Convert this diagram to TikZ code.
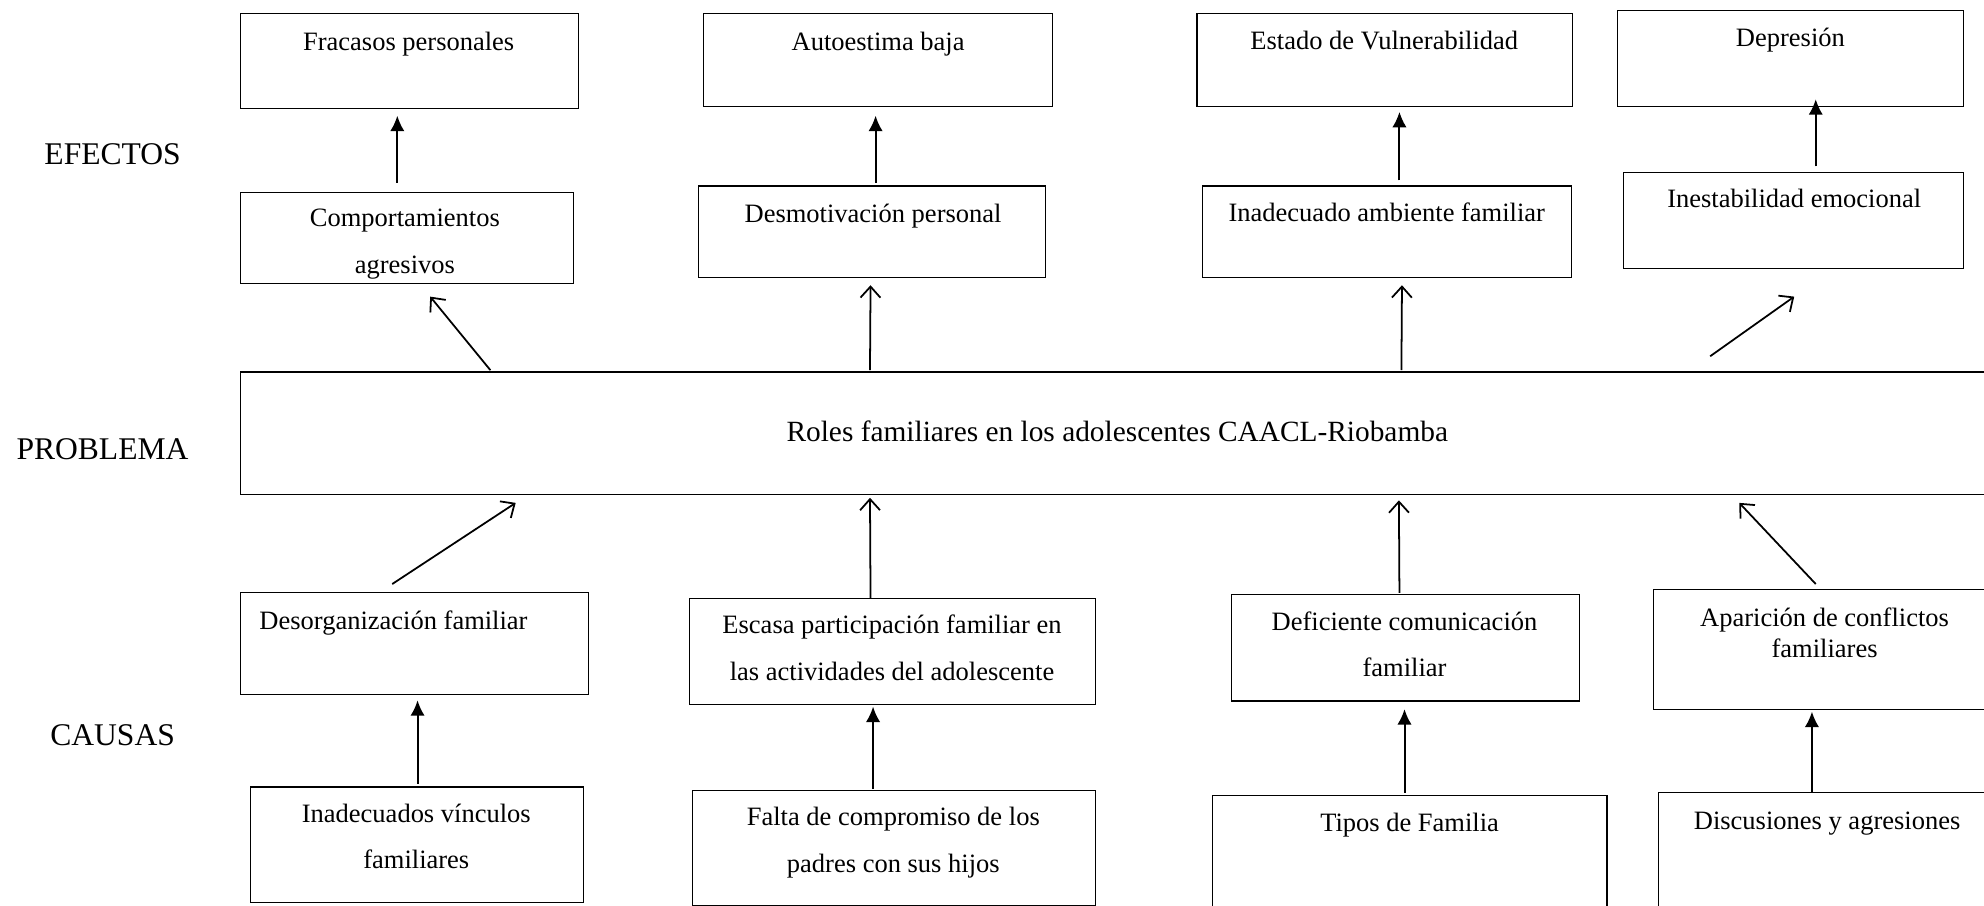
\documentclass[tikz,border=0pt]{standalone}
\usepackage{fontspec}
\setmainfont{Liberation Serif}
\usetikzlibrary{calc,fit,arrows.meta}
\tikzset{>=latex}
\tikzset{
  caja/.style = {draw, line width=0.5pt, inner sep=0pt},
  texto/.style = {font=\fontsize{12}{21}\selectfont, align=center, inner sep=0pt},
  etiqueta/.style = {font=\fontsize{14.3}{17}\selectfont, inner sep=0pt},
  flecha/.style = {-{Latex[length=7pt,width=6.5pt]}, line width=0.9pt},
  flechab/.style = {-{Straight Barb[length=5pt,width=9pt]}, line width=0.8pt}
}
\begin{document}
\begin{tikzpicture}[x=0.573pt, y=-0.573pt]
\useasboundingbox (0,0) rectangle (1568,716);
% etiquetas
\node[etiqueta] (lefectos) at (89,122) {EFECTOS};
\node[etiqueta] (lproblema) at (81,355) {PROBLEMA};
\node[etiqueta] (lcausas) at (89,581) {CAUSAS};
% efectos
\node[caja, fit={(190,11) (457,86)}] (e1) {};
\node[texto] (te1) at (323,35) {Fracasos personales};
\node[caja, fit={(556,11) (832,84)}] (e2) {};
\node[texto] (te2) at (694,35) {Autoestima baja};
\node[caja, fit={(946,11) (1243,84)}] (e3) {};
\node[texto] (te3) at (1094,32) {Estado de Vulnerabilidad};
\node[caja, fit={(1278,8) (1552,84)}] (e4) {};
\node[texto] (te4) at (1415,32) {Depresión};
\node[caja, fit={(190,152) (453,224)}] (c1) {};
\node[texto] (tc1) at (320,193) {Comportamientos\\agresivos};
\node[caja, fit={(552,147) (826,219)}] (c2) {};
\node[texto] (tc2) at (690,171) {Desmotivación personal};
\node[caja, fit={(950,147) (1242,219)}] (c3) {};
\node[texto] (tc3) at (1096,168) {Inadecuado ambiente familiar};
\node[caja, fit={(1283,136) (1552,212)}] (c4) {};
\node[texto] (tc4) at (1418,157) {Inestabilidad emocional};
% problema
\node[caja, fit={(190,294) (1580,391)}] (p) {};
\node[texto, font=\fontsize{13.3}{16}\selectfont] (tp) at (883,341) {Roles familiares en los adolescentes CAACL-Riobamba};
% causas
\node[caja, fit={(190,468) (465,549)}] (k1) {};
\node[texto] (tk1) at (311,492) {Desorganización familiar};
\node[caja, fit={(545,473) (866,557)}] (k2) {};
\node[texto] (tk2) at (705,512) {Escasa participación familiar en\\las actividades del adolescente};
\node[caja, fit={(973,470) (1248,554)}] (k3) {};
\node[texto] (tk3) at (1110,509) {Deficiente comunicación\\familiar};
\node[caja, fit={(1307,466) (1580,561)}] (k4) {};
\node[texto, font=\fontsize{12}{13.8}\selectfont] (tk4) at (1442,500) {Aparición de conflictos\\familiares};
\node[caja, fit={(198,622) (461,713)}] (r1) {};
\node[texto] (tr1) at (329,661) {Inadecuados vínculos\\familiares};
\node[caja, fit={(547,625) (866,716)}] (r2) {};
\node[texto] (tr2) at (706,666) {Falta de compromiso de los\\padres con sus hijos};
\node[caja, fit={(958,629) (1270,730)}] (r3) {};
\node[texto] (tr3) at (1114,652) {Tipos de Familia};
\node[caja, fit={(1311,626) (1580,730)}] (r4) {};
\node[texto] (tr4) at (1444,651) {Discusiones y agresiones};
% flechas llenas
\draw[flecha] ($(c1.north)+(-7.5,-7)$) -- ($(e1.south)+(-9.5,5)$);
\draw[flecha] ($(c2.north)+(3,-2)$) -- ($(e2.south)+(-2,7)$);
\draw[flecha] ($(c3.north)+(10,-4)$) -- ($(e3.south)+(11.5,4)$);
\draw[flecha] ($(c4.north)+(17.5,-4)$) -- ($(e4.south)+(20,-6)$);
\draw[flecha] ($(r1.north)+(0.5,-2)$) -- ($(k1.south)+(2.5,4)$);
\draw[flecha] ($(r2.north)+(-16.5,-1)$) -- ($(k2.south)+(-15.5,1)$);
\draw[flecha] ($(r3.north)+(-4,-2)$) -- ($(k3.south)+(-0.5,6)$);
\draw[flecha] ($(r4.north)+(-13.5,0)$) -- ($(k4.south)+(-11.5,1)$);
% flechas abiertas
\draw[flechab] ($(p.north west)+(198,-1)$) -- ($(c1.south)+(18.5,10)$);
\draw[flechab] ($(p.north west)+(498,-1)$) -- ($(c2.south)+(-1,6)$);
\draw[flechab] ($(p.north west)+(918,-1)$) -- ($(c3.south)+(12,6)$);
\draw[flechab] ($(p.north west)+(1162,-12)$) -- ($(c4.south)+(0.5,22)$);
\draw[flechab] ($(k1.north)+(-17.5,-6)$) -- ($(p.south west)+(218,6)$);
\draw[flechab] ($(k2.north)+(-17.5,0)$) -- ($(p.south west)+(498,2)$);
\draw[flechab] ($(k3.north)+(-4.5,-1)$) -- ($(p.south west)+(916,4)$);
\draw[flechab] ($(k4.north)+(-8.5,-4)$) -- ($(p.south west)+(1185,6)$);
\end{tikzpicture}
\end{document}
